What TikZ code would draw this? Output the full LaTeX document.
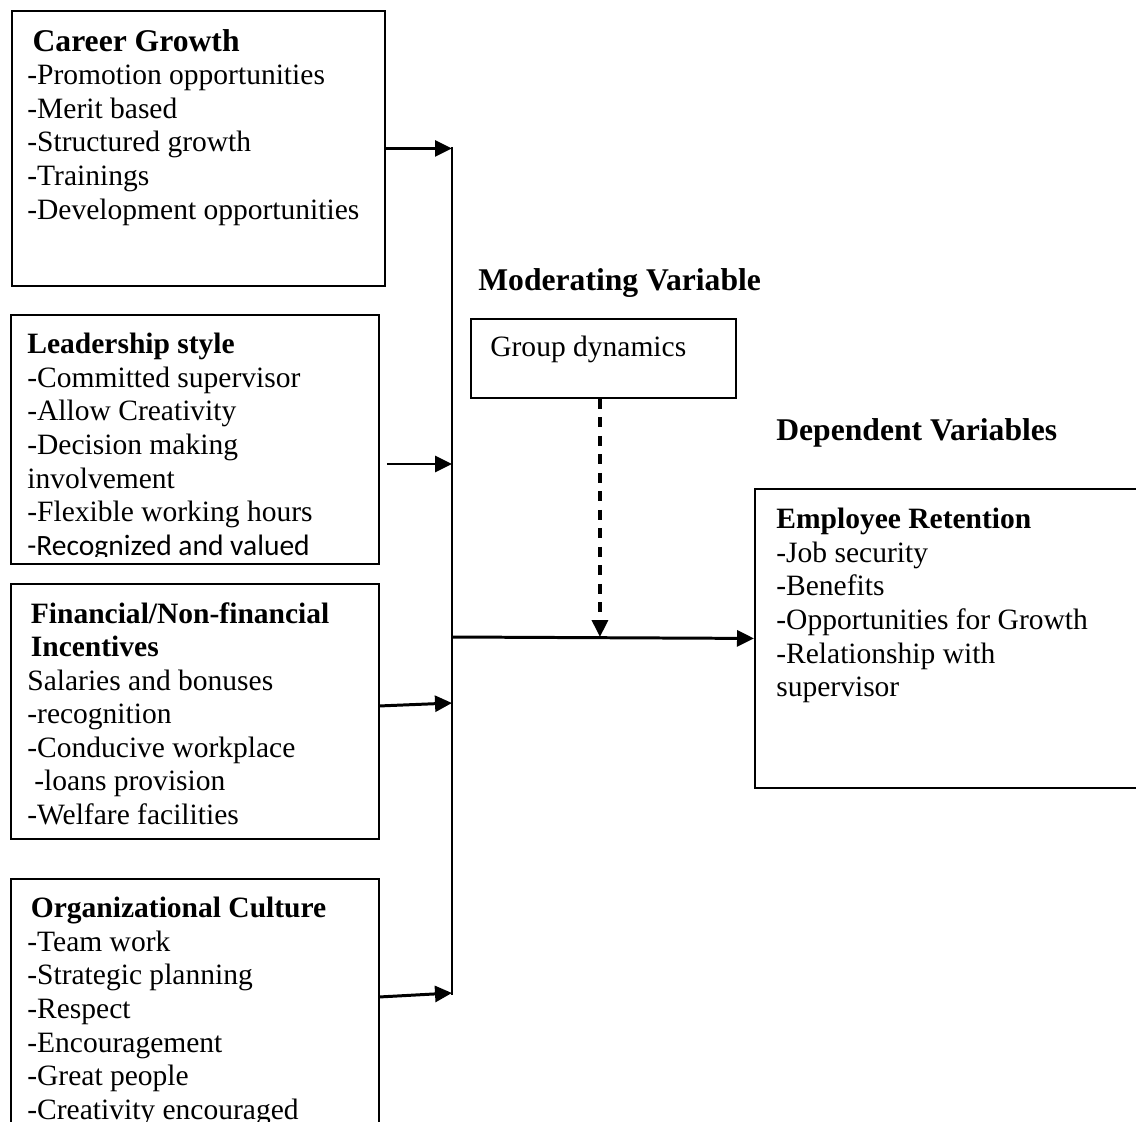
\documentclass[tikz,border=0pt]{standalone}
\usepackage{fontspec}
\setmainfont{Liberation Serif}
\newfontfamily\sanslinefont{Carlito}
\usetikzlibrary{arrows.meta}
\newcommand{\bodyfont}{\fontsize{16.8}{19.1}\selectfont}
\newcommand{\bigheadfont}{\fontsize{18}{19.1}\selectfont\bfseries}
\begin{document}
\begin{tikzpicture}[x=0.02cm, y=-0.02cm,
  frame/.style={draw, line width=1.1pt, anchor=north west, inner sep=0pt},
  txt/.style={anchor=north west, inner sep=0pt, align=left, font=\bodyfont},
  heading/.style={anchor=base west, inner sep=0pt, font=\bigheadfont},
  arr/.style={line width=1.7pt, -{Triangle[length=0.34cm, width=0.32cm]}}
]
\useasboundingbox (0,0) rectangle (1136,1122);
\clip (0,0) rectangle (1136,1122);

% independent variables
\node[frame, minimum width=7.46cm, minimum height=5.5cm] (career) at (11,10) {};
\node[frame, minimum width=7.36cm, minimum height=4.98cm] (leader) at (10,314) {};
\node[frame, minimum width=7.36cm, minimum height=5.1cm] (incent) at (10,583) {};
\node[frame, minimum width=7.36cm, minimum height=5.4cm] (culture) at (10,878) {};

\node[txt] (careertxt) at (27,29) {\hspace{3pt}{\bigheadfont Career Growth}\\
  -Promotion opportunities\\-Merit based\\-Structured growth\\-Trainings\\
  -Development opportunities};
\begin{scope}
  \clip (10,314) rectangle (390,556);
  \node[txt] (leadertxt) at (27,333) {\textbf{Leadership style}\\
    -Committed supervisor\\-Allow Creativity\\-Decision making\\involvement\\
    -Flexible working hours\\{\sanslinefont -Recognized and valued}};
\end{scope}
\node[txt] (incenttxt) at (27,602) {\hspace{2pt}\textbf{Financial/Non-financial}\\
  \hspace{2pt}\textbf{Incentives}\\Salaries and bonuses\\-recognition\\
  -Conducive workplace\\\hspace{4pt}-loans provision\\-Welfare facilities};
\node[txt] (culturetxt) at (27,897) {\hspace{2pt}\textbf{Organizational Culture}\\
  -Team work\\-Strategic planning\\-Respect\\-Encouragement\\-Great people\\
  -Creativity encouraged};

% moderating variable
\node[heading] (modlabel) at (478,290) {Moderating Variable};
\node[frame, minimum width=5.3cm, minimum height=1.58cm] (group) at (470,318) {};
\node[txt] (grouptxt) at (490,336) {Group dynamics};

% dependent variable
\node[heading] (deplabel) at (776,440) {Dependent Variables};
\node[frame, minimum width=8cm, minimum height=5.98cm] (retention) at (754,488) {};
\node[txt] (retentiontxt) at (776,508) {\textbf{Employee Retention}\\
  -Job security\\-Benefits\\-Opportunities for Growth\\-Relationship with\\supervisor};

% connectors
\coordinate (bustop) at (452,147);
\coordinate (busbot) at (452,995);
\coordinate (in2) at (452,464);
\coordinate (in3) at (452,703);
\coordinate (in4) at (452,993);
\coordinate (hub) at (452,637);
\draw[line width=1.2pt] (bustop) -- (busbot);
\draw[arr] (career.east) -- (career.east -| bustop);
\draw[arr] ([xshift=0.14cm]in2 -| leader.east) -- (in2);
\draw[arr] ([yshift=0.11cm]incent.east) -- (in3);
\draw[arr] ([yshift=0.34cm]culture.east) -- (in4);
\draw[arr] (hub) -- (retention.west);
\draw[arr, line width=1.8pt, dash pattern=on 0.2cm off 0.17cm]
  ([xshift=-0.07cm]group.south) -- ([xshift=-0.07cm]group.south |- hub);
\end{tikzpicture}
\end{document}
